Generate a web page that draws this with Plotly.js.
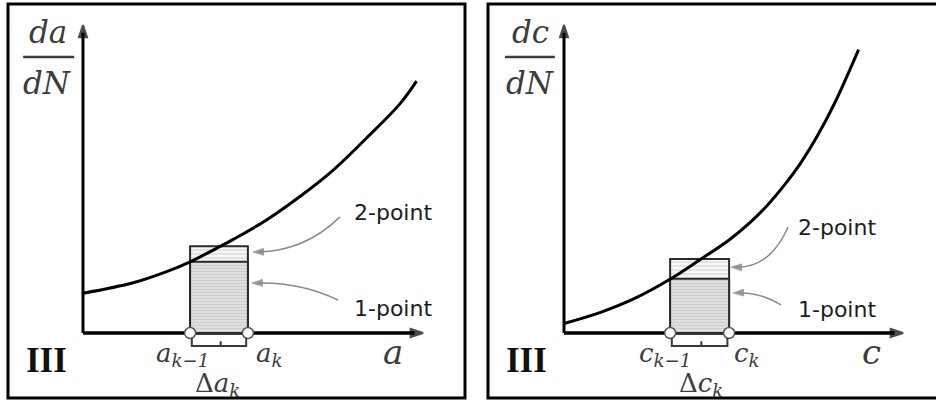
<!DOCTYPE html>
<html>
<head>
<meta charset="utf-8">
<script src="https://cdn.plot.ly/plotly-3.0.1.min.js"></script>
<style>
  html, body { margin: 0; padding: 0; background: #ffffff; }
  #chart { width: 936px; height: 403px; }
</style>
</head>
<body>
<div id="chart"></div>
<script>
// Panel "a": crack growth rate da/dN against crack length a
const aCurveX = [0, 1.48, 2.46, 3.15, 3.93, 4.42, 5.40, 6.38, 7.36, 8.34, 9.32, 9.81];
const aCurveY = [1.29, 1.63, 1.99, 2.31, 2.75, 3.04, 3.67, 4.43, 5.29, 6.33, 7.44, 8.18];
const aInterval = [3.15, 4.85];        // a_{k-1}, a_k
const aRates = { onePoint: 2.31, twoPoint: 2.82 };

// Panel "c": crack growth rate dc/dN against crack depth c
const cCurveX = [0, 1.1, 2.1, 3.15, 4.0, 4.87, 5.5, 6.0, 6.5, 7.0, 7.5, 8.0, 8.69];
const cCurveY = [0.31, 0.68, 1.13, 1.76, 2.37, 3.02, 3.60, 4.15, 4.80, 5.55, 6.45, 7.50, 9.20];
const cInterval = [3.13, 4.87];        // c_{k-1}, c_k
const cRates = { onePoint: 1.76, twoPoint: 2.40 };

// Axis extent in data units (both axes run 0..10)
const axisMax = 10;

const mathFont = { family: 'DejaVu Serif, Liberation Serif, serif', color: '#3c3c3c' };
const labelFont = { family: 'DejaVu Sans, Verdana, sans-serif', size: 22, color: '#1c1c1c' };

// Callout leaders: [startX, startY, ctrlX, ctrlY, tipX, tipY]
const aCurves = [[7.56, 3.77, 6.53, 2.66, 5.0, 2.63], [7.5, 1.07, 6.38, 1.66, 4.97, 1.62]];
const cCurves = [[6.61, 3.44, 6.08, 2.11, 4.93, 2.14], [6.40, 0.91, 5.78, 1.33, 4.99, 1.30]];

function panelTraces(xa, ya, cx, cy, iv, rates, curves) {
  const mid = (iv[0] + iv[1]) / 2;
  const w = iv[1] - iv[0];
  const tr = [
    { // 2-point estimate
      type: 'bar', x: [mid], y: [rates.twoPoint], width: [w], xaxis: xa, yaxis: ya,
      marker: { color: '#f5f5f5',
        pattern: { shape: '-', fgcolor: '#cfcfcf', bgcolor: '#f7f7f7', size: 4, solidity: 0.25 },
        line: { color: '#2a2a2a', width: 2 } },
      hoverinfo: 'skip'
    },
    { // 1-point estimate
      type: 'bar', x: [mid], y: [rates.onePoint], width: [w], xaxis: xa, yaxis: ya,
      marker: { color: '#dcdcdc',
        pattern: { shape: '-', fgcolor: '#cbcbcb', bgcolor: '#dfdfdf', size: 3, solidity: 0.3 },
        line: { color: '#2a2a2a', width: 2 } },
      hoverinfo: 'skip'
    },
    { // growth-rate curve
      type: 'scatter', mode: 'lines', x: cx, y: cy, xaxis: xa, yaxis: ya,
      line: { color: '#000000', width: 3, shape: 'spline', smoothing: 1 },
      hoverinfo: 'skip'
    },
    { // arrowheads of the axes
      type: 'scatter', mode: 'markers', x: [axisMax - 0.5, axisMax], y: [0, 0], xaxis: xa, yaxis: ya,
      marker: { symbol: 'arrow', size: [0, 13], angleref: 'previous', color: '#000000',
                line: { width: 2, color: '#000000' } },
      cliponaxis: false, hoverinfo: 'skip'
    },
    {
      type: 'scatter', mode: 'markers', x: [0, 0], y: [axisMax - 0.5, axisMax], xaxis: xa, yaxis: ya,
      marker: { symbol: 'arrow', size: [0, 13], angleref: 'previous', color: '#000000',
                line: { width: 2, color: '#000000' } },
      cliponaxis: false, hoverinfo: 'skip'
    }
  ];
  // arrowheads of the callout leaders, aligned with the curve's end tangent
  curves.forEach(c => {
    tr.push({
      type: 'scatter', mode: 'markers', x: [c[2], c[4]], y: [c[3], c[5]], xaxis: xa, yaxis: ya,
      marker: { symbol: 'arrow', size: [0, 11], angleref: 'previous', color: '#777777',
                line: { width: 1, color: '#777777' } },
      hoverinfo: 'skip'
    });
  });
  tr.push({ // interval end points
    type: 'scatter', mode: 'markers', x: iv, y: [0, 0], xaxis: xa, yaxis: ya,
    marker: { size: 11, color: '#ffffff', line: { color: '#555555', width: 1.5 } },
    cliponaxis: false, hoverinfo: 'skip'
  });
  return tr;
}

function panelShapes(xr, yr, iv, curves) {
  const s = [];
  // axes lines
  s.push({ type: 'line', xref: xr, yref: yr, x0: 0, y0: 0, x1: axisMax - 0.25, y1: 0,
           line: { color: '#000', width: 3.5 }, layer: 'below' });
  s.push({ type: 'line', xref: xr, yref: yr, x0: 0, y0: 0, x1: 0, y1: axisMax - 0.25,
           line: { color: '#000', width: 3 }, layer: 'below' });
  // brace under the interval
  const l = iv[0] + 0.05, r = iv[1] - 0.05, m = (iv[0] + iv[1]) / 2 + 0.05;
  s.push({ type: 'path', xref: xr, yref: yr,
           path: `M ${l},-0.16 L ${l},-0.42 L ${r},-0.42 L ${r},-0.16 M ${m},-0.42 L ${m},-0.27`,
           line: { color: '#3a3a3a', width: 2 } });
  // curved callout leaders
  curves.forEach(c => {
    s.push({ type: 'path', xref: xr, yref: yr,
             path: `M ${c[0]},${c[1]} Q ${c[2]},${c[3]} ${c[4] + 0.15},${c[5]}`,
             line: { color: '#8a8a8a', width: 1.5 } });
  });
  return s;
}

function panelAnnotations(xr, yr, v, p) {
  const A = [];
  const mf = (size) => Object.assign({}, mathFont, { size: size });
  // fraction label on the vertical axis
  A.push({ xref: xr, yref: yr, x: p.fracX, y: 9.77, text: `<i>d${v}</i>`, showarrow: false, font: mf(31) });
  A.push({ xref: xr, yref: yr, x: p.fracX, y: 8.12, text: '<i>dN</i>', showarrow: false, font: mf(31) });
  // horizontal axis variable
  A.push({ xref: xr, yref: yr, x: p.varX, y: -0.62, text: `<i>${v}</i>`, showarrow: false, font: mf(34) });
  // interval labels
  A.push({ xref: xr, yref: yr, x: p.prevX, y: -0.70, text: `<i>${v}<sub>k−1</sub></i>`, showarrow: false, font: mf(26) });
  A.push({ xref: xr, yref: yr, x: p.kX, y: -0.70, text: `<i>${v}<sub>k</sub></i>`, showarrow: false, font: mf(26) });
  A.push({ xref: xr, yref: yr, x: p.deltaX, y: -1.68, text: `Δ<i>${v}<sub>k</sub></i>`, showarrow: false, font: mf(26) });
  // region number
  A.push({ xref: xr, yref: yr, x: p.romanX, y: -0.88, text: '<b>III</b>', showarrow: false,
           font: { family: 'Liberation Serif, serif', size: 35, color: '#111' } });
  // estimate labels
  A.push({ xref: xr, yref: yr, x: p.labelX, y: p.twoY, text: '2-point', showarrow: false, font: labelFont });
  A.push({ xref: xr, yref: yr, x: p.labelX, y: p.oneY, text: '1-point', showarrow: false, font: labelFont });
  return A;
}

const data = [].concat(
  panelTraces('x', 'y', aCurveX, aCurveY, aInterval, aRates, aCurves),
  panelTraces('x2', 'y2', cCurveX, cCurveY, cInterval, cRates, cCurves)
);

const shapes = [].concat(
  panelShapes('x', 'y', aInterval, aCurves),
  panelShapes('x2', 'y2', cInterval, cCurves),
  [
    { type: 'line', xref: 'x', yref: 'y', x0: -1.76, x1: -0.26, y0: 8.96, y1: 8.96, line: { color: '#3c3c3c', width: 2.5 } },
    { type: 'line', xref: 'x2', yref: 'y2', x0: -1.74, x1: -0.27, y0: 8.96, y1: 8.96, line: { color: '#3c3c3c', width: 2.5 } },
    { type: 'rect', xref: 'paper', yref: 'paper', x0: 8 / 936, x1: 465 / 936, y0: 1 - 398 / 403, y1: 1 - 4 / 403,
      line: { color: '#000', width: 3 } },
    { type: 'rect', xref: 'paper', yref: 'paper', x0: 488 / 936, x1: 945 / 936, y0: 1 - 398 / 403, y1: 1 - 4 / 403,
      line: { color: '#000', width: 3 } }
  ]
);

const annotations = [].concat(
  panelAnnotations('x', 'y', 'a', {
    fracX: -1.03, varX: 9.12, prevX: 2.94, kX: 5.5, deltaX: 3.97,
    romanX: -1.06, labelX: 9.12, twoY: 3.90, oneY: 0.81 }),
  panelAnnotations('x2', 'y2', 'c', {
    fracX: -1.0, varX: 9.06, prevX: 2.98, kX: 5.40, deltaX: 4.04,
    romanX: -1.12, labelX: 8.05, twoY: 3.44, oneY: 0.75 })
);

const layout = {
  width: 936, height: 403,
  margin: { l: 0, r: 0, t: 0, b: 0 },
  paper_bgcolor: '#ffffff', plot_bgcolor: '#ffffff',
  showlegend: false, barmode: 'overlay',
  xaxis:  { domain: [0, 0.5], range: [-2.441, 11.324], visible: false, fixedrange: true },
  yaxis:  { domain: [0, 1], range: [-2.273, 10.812], visible: false, fixedrange: true },
  xaxis2: { domain: [0.5, 1], range: [-2.832, 10.973], visible: false, anchor: 'y2', fixedrange: true },
  yaxis2: { domain: [0, 1], range: [-2.273, 10.812], visible: false, anchor: 'x2', fixedrange: true },
  shapes: shapes,
  annotations: annotations
};

Plotly.newPlot('chart', data, layout, { staticPlot: true, displayModeBar: false });
</script>
</body>
</html>
